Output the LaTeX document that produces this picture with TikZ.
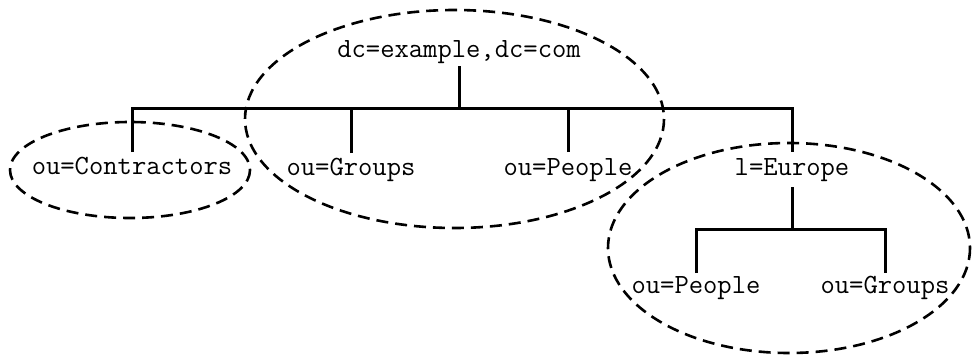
\documentclass[tikz,border=0pt]{standalone}
\begin{document}
\begin{tikzpicture}[x=1pt,y=-1pt,
  lbl/.style={font=\ttfamily\fontsize{27.8}{32}\selectfont, inner sep=0pt, anchor=base},
  tree/.style={line width=3pt},
  grp/.style={line width=2.6pt, dash pattern=on 12pt off 7pt}]
\useasboundingbox (0,0) rectangle (973,356);
% group ellipses
\draw[grp] (454.5,119) ellipse [x radius=209.5, y radius=109];
\draw[grp] (130,170) ellipse [x radius=120, y radius=48];
\draw[grp] (789,248) ellipse [x radius=181, y radius=105];
% labels
\node[lbl] (root) at (459,57) {dc=example,dc=com};
\node[lbl] (contr) at (132,174) {ou=Contractors};
\node[lbl] (groups) at (351,175) {ou=Groups};
\node[lbl] (people) at (568,175) {ou=People};
\node[lbl] (europe) at (792,175) {l=Europe};
\node[lbl] (eupeople) at (696,293) {ou=People};
\node[lbl] (eugroups) at (885,293) {ou=Groups};
% tree connectors
\coordinate (rootlow) at (459,66);
\coordinate (bar) at (459,108);
\coordinate (contrtop) at (132,152);
\coordinate (groupstop) at (351,153);
\coordinate (peopletop) at (568,152);
\coordinate (europetop) at (792,152);
\coordinate (europelow) at (792,187);
\coordinate (eubar) at (792,229);
\coordinate (eupeopletop) at (696,273);
\coordinate (eugroupstop) at (885,273);
\draw[tree] (rootlow) -- (bar);
\draw[tree] (contrtop) |- (bar) -| (europetop);
\draw[tree] (groupstop) -- (groupstop |- bar);
\draw[tree] (peopletop) -- (peopletop |- bar);
\draw[tree] (europelow) -- (eubar);
\draw[tree] (eupeopletop) |- (eubar) -| (eugroupstop);
\end{tikzpicture}
\end{document}
